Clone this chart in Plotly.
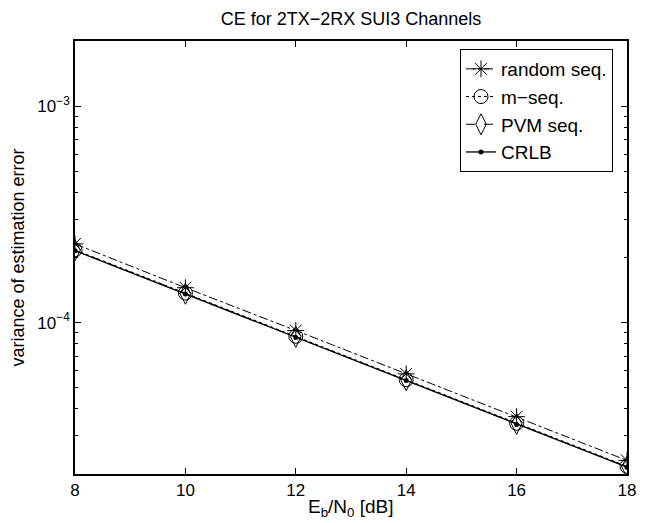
import plotly.graph_objects as go

snr_db = [8, 10, 12, 14, 16, 18]
random_seq = [2.31e-4, 1.45e-4, 9.2e-5, 5.8e-5, 3.68e-5, 2.31e-5]
m_seq = [2.17e-4, 1.37e-4, 8.65e-5, 5.45e-5, 3.43e-5, 2.17e-5]
pvm_seq = [2.16e-4, 1.36e-4, 8.6e-5, 5.42e-5, 3.41e-5, 2.16e-5]
crlb = [2.15e-4, 1.355e-4, 8.55e-5, 5.4e-5, 3.39e-5, 2.15e-5]

x_ticks = [8, 10, 12, 14, 16, 18]
y_major = [1e-4, 1e-3]
y_major_text = ["10<sup>−4</sup>", "10<sup>−3</sup>"]
y_minor = [3e-5, 4e-5, 5e-5, 6e-5, 7e-5, 8e-5, 9e-5,
           2e-4, 3e-4, 4e-4, 5e-4, 6e-4, 7e-4, 8e-4, 9e-4]

font = "Liberation Sans, Arial, Helvetica, sans-serif"

fig = go.Figure()
fig.add_trace(go.Scatter(x=snr_db, y=random_seq, name="random seq.", mode="lines+markers",
                         line=dict(color="black", width=1, dash="dashdot"),
                         marker=dict(symbol="asterisk-open", size=14, color="black",
                                     line=dict(color="black", width=1))))
fig.add_trace(go.Scatter(x=snr_db, y=m_seq, name="m−seq.", mode="lines+markers",
                         line=dict(color="black", width=1, dash="dot"),
                         marker=dict(symbol="circle-open", size=14, color="black",
                                     line=dict(color="black", width=1))))
fig.add_trace(go.Scatter(x=snr_db, y=pvm_seq, name="PVM seq.", mode="lines+markers",
                         line=dict(color="black", width=1, dash="dash"),
                         marker=dict(symbol="diamond-tall-open", size=15, color="black",
                                     line=dict(color="black", width=1))))
fig.add_trace(go.Scatter(x=snr_db, y=crlb, name="CRLB", mode="lines+markers",
                         line=dict(color="black", width=1.3),
                         marker=dict(symbol="circle", size=5, color="black")))

plot_h = 523 - 41 - 49

fig.update_layout(
    width=652, height=523,
    margin=dict(l=75, r=25, t=41, b=49),
    paper_bgcolor="white", plot_bgcolor="white",
    font=dict(family=font, size=17, color="black"),
    title=dict(text="CE for 2TX−2RX SUI3 Channels", x=(75 + 627) / 2 / 652, xanchor="center",
               y=1 - 19 / 523, yanchor="middle", font=dict(size=18)),
    showlegend=True,
    legend=dict(x=(613 - 75) / 552, xanchor="right", y=1 - (49 - 41) / plot_h, yanchor="top",
                bgcolor="white", bordercolor="black", borderwidth=1,
                font=dict(size=19), tracegroupgap=0, itemwidth=30),
    annotations=[dict(text="E<sub>b</sub>/N<sub>0</sub> [dB]", xref="x", x=13,
                      yref="paper", y=-(508 - 474) / plot_h, xanchor="center",
                      yanchor="middle", showarrow=False, font=dict(size=19))],
)
fig.update_xaxes(range=[8, 18], tickvals=x_ticks, ticks="inside", ticklen=6,
                 tickcolor="black", showline=True, linecolor="black", linewidth=1.5,
                 mirror="ticks", showgrid=False, zeroline=False,
                 tickfont=dict(size=17))
fig.update_yaxes(type="log", range=[-4.699, -2.699], tickvals=y_major, ticktext=y_major_text,
                 ticks="inside", ticklen=6, tickcolor="black", showline=True,
                 linecolor="black", linewidth=1.5, mirror="ticks", showgrid=False,
                 zeroline=False, tickfont=dict(size=17),
                 minor=dict(tickvals=y_minor, ticks="inside", ticklen=3, tickcolor="black",
                            showgrid=False),
                 title=dict(text="variance of estimation error", standoff=8,
                            font=dict(size=18)))

fig.write_html("out.html", config={"displayModeBar": False},
               post_script="document.body.style.margin='0px';document.body.style.overflow='hidden';")
